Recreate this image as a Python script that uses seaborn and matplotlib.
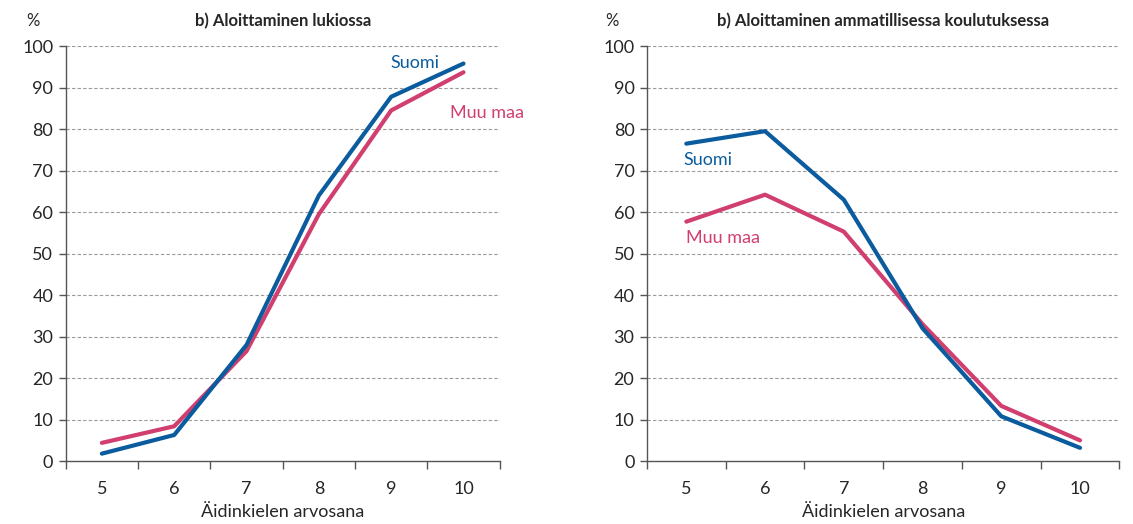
import matplotlib
matplotlib.use('Agg')
import matplotlib.pyplot as plt
import seaborn as sns
import pandas as pd
import numpy as np

# Data
grades = ['5', '6', '7', '8', '9', '10']
lukio_suomi = [1.8, 6.3, 28.0, 64.0, 87.8, 95.8]
lukio_muu = [4.4, 8.4, 26.5, 59.5, 84.5, 93.7]
amm_suomi = [76.5, 79.5, 63.0, 32.0, 10.8, 3.2]
amm_muu = [57.7, 64.2, 55.3, 33.0, 13.3, 5.0]

titles = ['b) Aloittaminen lukiossa', 'b) Aloittaminen ammatillisessa koulutuksessa']
xlabel = 'Äidinkielen arvosana'

BLUE = '#0b5c9e'
PINK = '#d13f6f'

sns.set_style('white')
plt.rcParams['font.family'] = ['Lato', 'DejaVu Sans']

fig = plt.figure(figsize=(11.33, 5.24), dpi=100)
ax1 = fig.add_axes([0.058, 0.120, 0.383, 0.792])
ax2 = fig.add_axes([0.571, 0.120, 0.417, 0.792])

panels = [
    (ax1, lukio_suomi, lukio_muu, titles[0], [(4.33, 96.0), (5.32, 84.0)]),
    (ax2, amm_suomi, amm_muu, titles[1], [(0.28, 72.5), (0.46, 53.7)]),
]

for ax, suomi, muu, title, label_pos in panels:
    df = pd.DataFrame({
        'x': list(range(len(grades))) * 2,
        'value': suomi + muu,
        'ryhmä': ['Suomi'] * len(grades) + ['Muu maa'] * len(grades),
    })
    sns.lineplot(data=df, x='x', y='value', hue='ryhmä',
                 palette={'Suomi': BLUE, 'Muu maa': PINK},
                 hue_order=['Muu maa', 'Suomi'],
                 linewidth=3.0, legend=False, ax=ax, zorder=3)

    ax.set_xlim(-0.5, len(grades) - 0.5)
    ax.set_ylim(0, 100)
    ax.set_yticks(np.arange(0, 101, 10))
    ax.tick_params(axis='y', labelsize=13, length=5, width=1, direction='out',
                   left=True, color='#555555', pad=4)
    ax.set_xticks(range(len(grades)))
    ax.set_xticklabels(grades)
    ax.set_xticks(np.arange(-0.5, len(grades), 1), minor=True)
    ax.tick_params(axis='x', which='major', length=0, labelsize=13, pad=14)
    ax.tick_params(axis='x', which='minor', length=6, width=1, direction='out',
                   bottom=True, color='#555555')

    for v in range(10, 101, 10):
        ax.axhline(v, color='#999999', linestyle=(0, (3, 2)), linewidth=0.8, zorder=1)

    for side in ['top', 'right']:
        ax.spines[side].set_visible(False)
    for side in ['left', 'bottom']:
        ax.spines[side].set_color('#555555')
        ax.spines[side].set_linewidth(1)

    ax.set_xlabel(xlabel, fontsize=13, labelpad=5)
    ax.set_ylabel('')
    ax.set_title(title, fontsize=12, fontweight='bold', pad=14)
    ax.text(-0.075, 1.06, '%', transform=ax.transAxes, fontsize=12, ha='center', va='center')

    ax.text(label_pos[0][0], label_pos[0][1], 'Suomi', color=BLUE, fontsize=13,
            ha='center', va='center')
    ax.text(label_pos[1][0], label_pos[1][1], 'Muu maa', color=PINK, fontsize=13,
            ha='center', va='center')

fig.savefig('out.png', dpi=100)
